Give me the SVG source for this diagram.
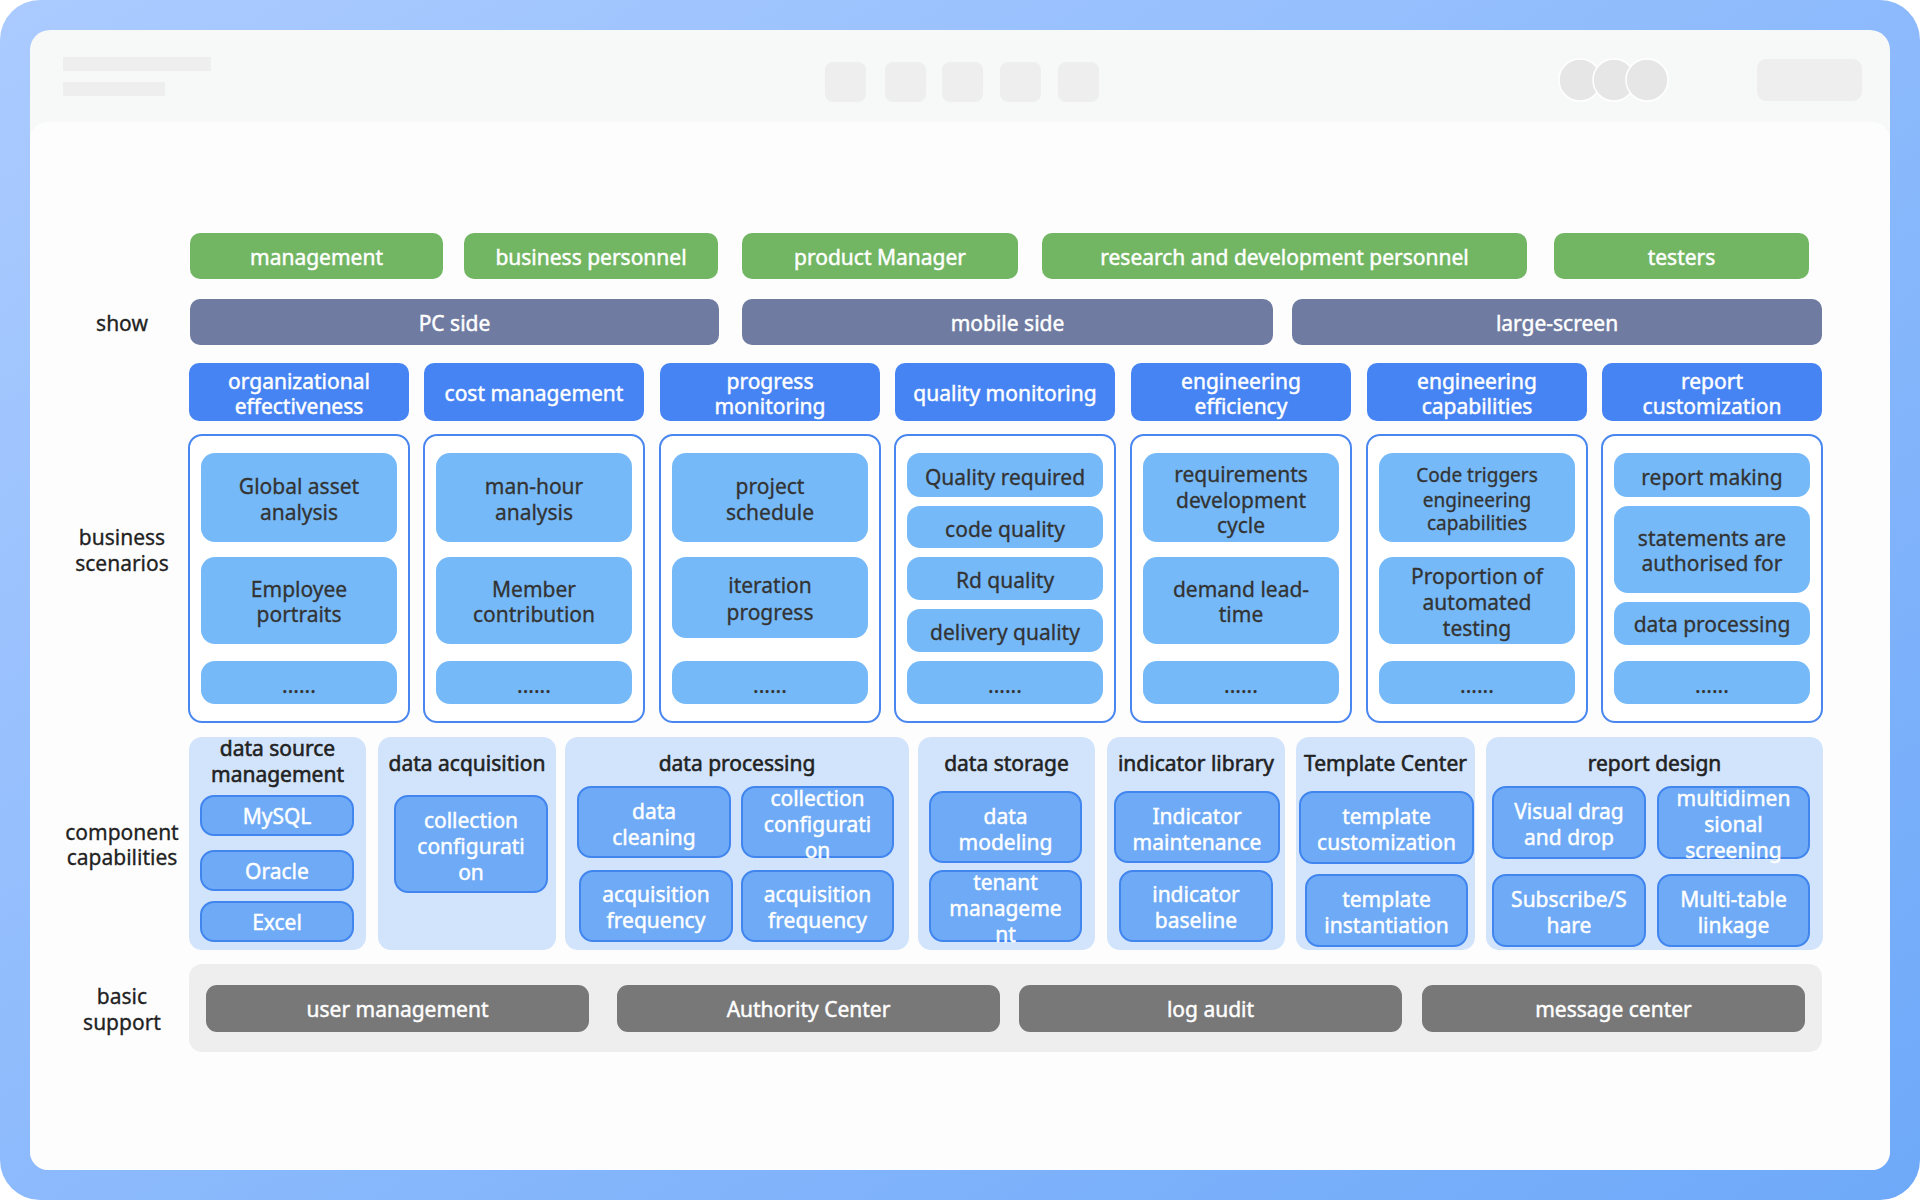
<svg xmlns="http://www.w3.org/2000/svg" width="1920" height="1200" viewBox="0 0 1920 1200">
<defs>
<linearGradient id="frame" x1="0" y1="0" x2="1" y2="1">
<stop offset="0" stop-color="#abcbff"/>
<stop offset="1" stop-color="#6ea9f9"/>
</linearGradient>
<style>
text{font-family:"Noto Sans","Open Sans","Liberation Sans",sans-serif;font-size:21px;text-anchor:middle;transform:translateY(2px)}
.w{fill:#fff;stroke:#fff;stroke-width:0.45}
.d{fill:#333;stroke:#333;stroke-width:0.3}
.k{fill:#222;stroke:#222;stroke-width:0.3}
.t{fill:#222;stroke:#222;stroke-width:0.55}
.g{fill:#72b663}
.s{fill:#6f7ba1}
.b{fill:#4784f3}
.c{fill:#fff;stroke:#4a86ef;stroke-width:2}
.sb{fill:#75b9f8}
.p{fill:#d1e4fc}
.cb{fill:#6eaaf6;stroke:#4185ef;stroke-width:2}
.bp{fill:#eeeeee}
.gb{fill:#787878}
.hb{fill:#eeeeee}
.sm{font-size:19px}
</style>
</defs>
<g id="frame-bg">
<rect x="0" y="0" width="1920" height="1200" rx="40" fill="url(#frame)"/>
<rect x="30" y="30" width="1860" height="1140" rx="20" fill="#f7f9f8"/>
<rect x="30" y="122" width="1860" height="1048" rx="18" fill="#fdfdfd"/>
</g>
<g id="header">
<rect class="hb" x="63" y="57" width="148" height="14"/>
<rect class="hb" x="63" y="82" width="102" height="14"/>
<rect class="hb" x="825" y="62" width="41" height="40" rx="8"/>
<rect class="hb" x="885" y="62" width="41" height="40" rx="8"/>
<rect class="hb" x="942" y="62" width="41" height="40" rx="8"/>
<rect class="hb" x="1000" y="62" width="41" height="40" rx="8"/>
<rect class="hb" x="1058" y="62" width="41" height="40" rx="8"/>
<circle cx="1580" cy="80" r="21" fill="#e6e6e6" stroke="#fff" stroke-width="1.5"/>
<circle cx="1614" cy="80" r="21" fill="#e6e6e6" stroke="#fff" stroke-width="1.5"/>
<circle cx="1647" cy="80" r="21" fill="#e6e6e6" stroke="#fff" stroke-width="1.5"/>
<rect class="hb" x="1757" y="59" width="105" height="42" rx="9"/>
</g>
<g id="labels">
<text class="k" x="122" y="329">show</text>
<text class="k" x="122" y="543">business</text>
<text class="k" x="122" y="569">scenarios</text>
<text class="k" x="122" y="838">component</text>
<text class="k" x="122" y="863">capabilities</text>
<text class="k" x="122" y="1002">basic</text>
<text class="k" x="122" y="1028">support</text>
</g>
<g id="users">
<g id="u-management"><rect class="g" x="190" y="233" width="253" height="46" rx="10"/><text class="w" x="316.5" y="263">management</text></g>
<g id="u-business"><rect class="g" x="464" y="233" width="254" height="46" rx="10"/><text class="w" x="591" y="263">business personnel</text></g>
<g id="u-product"><rect class="g" x="742" y="233" width="276" height="46" rx="10"/><text class="w" x="880" y="263">product Manager</text></g>
<g id="u-rd"><rect class="g" x="1042" y="233" width="485" height="46" rx="10"/><text class="w" x="1284.5" y="263">research and development personnel</text></g>
<g id="u-testers"><rect class="g" x="1554" y="233" width="255" height="46" rx="10"/><text class="w" x="1681.5" y="263">testers</text></g>
</g>
<g id="show">
<g id="s-pc"><rect class="s" x="190" y="299" width="529" height="46" rx="10"/><text class="w" x="454.5" y="329">PC side</text></g>
<g id="s-mobile"><rect class="s" x="742" y="299" width="531" height="46" rx="10"/><text class="w" x="1007.5" y="329">mobile side</text></g>
<g id="s-large"><rect class="s" x="1292" y="299" width="530" height="46" rx="10"/><text class="w" x="1557" y="329">large-screen</text></g>
</g>
<g id="scenario-headers">
<g id="h-org"><rect class="b" x="189" y="363" width="220" height="58" rx="10"/><text class="w" x="299" y="387">organizational</text><text class="w" x="299" y="412">effectiveness</text></g>
<g id="h-cost"><rect class="b" x="424" y="363" width="220" height="58" rx="10"/><text class="w" x="534" y="399">cost management</text></g>
<g id="h-progress"><rect class="b" x="660" y="363" width="220" height="58" rx="10"/><text class="w" x="770" y="387">progress</text><text class="w" x="770" y="412">monitoring</text></g>
<g id="h-quality"><rect class="b" x="895" y="363" width="220" height="58" rx="10"/><text class="w" x="1005" y="399">quality monitoring</text></g>
<g id="h-effic"><rect class="b" x="1131" y="363" width="220" height="58" rx="10"/><text class="w" x="1241" y="387">engineering</text><text class="w" x="1241" y="412">efficiency</text></g>
<g id="h-capab"><rect class="b" x="1367" y="363" width="220" height="58" rx="10"/><text class="w" x="1477" y="387">engineering</text><text class="w" x="1477" y="412">capabilities</text></g>
<g id="h-report"><rect class="b" x="1602" y="363" width="220" height="58" rx="10"/><text class="w" x="1712" y="387">report</text><text class="w" x="1712" y="412">customization</text></g>
</g>
<g id="scenarios">
<g id="c-org">
<rect class="c" x="189" y="435" width="220" height="287" rx="13"/>
<rect class="sb" x="201" y="453" width="196" height="89" rx="14"/><text class="d" x="299" y="492">Global asset</text><text class="d" x="299" y="518">analysis</text>
<rect class="sb" x="201" y="557" width="196" height="87" rx="14"/><text class="d" x="299" y="595">Employee</text><text class="d" x="299" y="620">portraits</text>
<rect class="sb" x="201" y="661" width="196" height="43" rx="14"/><text class="d" x="299" y="691">......</text>
</g>
<g id="c-cost">
<rect class="c" x="424" y="435" width="220" height="287" rx="13"/>
<rect class="sb" x="436" y="453" width="196" height="89" rx="14"/><text class="d" x="534" y="492">man-hour</text><text class="d" x="534" y="518">analysis</text>
<rect class="sb" x="436" y="557" width="196" height="87" rx="14"/><text class="d" x="534" y="595">Member</text><text class="d" x="534" y="620">contribution</text>
<rect class="sb" x="436" y="661" width="196" height="43" rx="14"/><text class="d" x="534" y="691">......</text>
</g>
<g id="c-progress">
<rect class="c" x="660" y="435" width="220" height="287" rx="13"/>
<rect class="sb" x="672" y="453" width="196" height="89" rx="14"/><text class="d" x="770" y="492">project</text><text class="d" x="770" y="518">schedule</text>
<rect class="sb" x="672" y="557" width="196" height="81" rx="14"/><text class="d" x="770" y="591">iteration</text><text class="d" x="770" y="618">progress</text>
<rect class="sb" x="672" y="661" width="196" height="43" rx="14"/><text class="d" x="770" y="691">......</text>
</g>
<g id="c-quality">
<rect class="c" x="895" y="435" width="220" height="287" rx="13"/>
<rect class="sb" x="907" y="453" width="196" height="44" rx="13"/><text class="d" x="1005" y="483">Quality required</text>
<rect class="sb" x="907" y="506" width="196" height="42" rx="13"/><text class="d" x="1005" y="535">code quality</text>
<rect class="sb" x="907" y="557" width="196" height="43" rx="13"/><text class="d" x="1005" y="586">Rd quality</text>
<rect class="sb" x="907" y="609" width="196" height="43" rx="13"/><text class="d" x="1005" y="638">delivery quality</text>
<rect class="sb" x="907" y="661" width="196" height="43" rx="14"/><text class="d" x="1005" y="691">......</text>
</g>
<g id="c-effic">
<rect class="c" x="1131" y="435" width="220" height="287" rx="13"/>
<rect class="sb" x="1143" y="453" width="196" height="89" rx="14"/><text class="d" x="1241" y="480">requirements</text><text class="d" x="1241" y="506">development</text><text class="d" x="1241" y="531">cycle</text>
<rect class="sb" x="1143" y="557" width="196" height="87" rx="14"/><text class="d" x="1241" y="595">demand lead-</text><text class="d" x="1241" y="620">time</text>
<rect class="sb" x="1143" y="661" width="196" height="43" rx="14"/><text class="d" x="1241" y="691">......</text>
</g>
<g id="c-capab">
<rect class="c" x="1367" y="435" width="220" height="287" rx="13"/>
<rect class="sb" x="1379" y="453" width="196" height="89" rx="14"/><text class="d sm" x="1477" y="480">Code triggers</text><text class="d sm" x="1477" y="505">engineering</text><text class="d sm" x="1477" y="528">capabilities</text>
<rect class="sb" x="1379" y="557" width="196" height="87" rx="14"/><text class="d" x="1477" y="582">Proportion of</text><text class="d" x="1477" y="608">automated</text><text class="d" x="1477" y="634">testing</text>
<rect class="sb" x="1379" y="661" width="196" height="43" rx="14"/><text class="d" x="1477" y="691">......</text>
</g>
<g id="c-report">
<rect class="c" x="1602" y="435" width="220" height="287" rx="13"/>
<rect class="sb" x="1614" y="453" width="196" height="44" rx="13"/><text class="d" x="1712" y="483">report making</text>
<rect class="sb" x="1614" y="506" width="196" height="87" rx="14"/><text class="d" x="1712" y="544">statements are</text><text class="d" x="1712" y="569">authorised for</text>
<rect class="sb" x="1614" y="602" width="196" height="43" rx="13"/><text class="d" x="1712" y="630">data processing</text>
<rect class="sb" x="1614" y="661" width="196" height="43" rx="14"/><text class="d" x="1712" y="691">......</text>
</g>
</g>
<g id="components">
<g id="p-dsm">
<rect class="p" x="189" y="737" width="177" height="213" rx="13"/>
<text class="t" x="277.5" y="754">data source</text><text class="t" x="277.5" y="780">management</text>
<rect class="cb" x="201" y="796" width="152" height="39" rx="13"/><text class="w" x="277" y="822">MySQL</text>
<rect class="cb" x="201" y="851" width="152" height="39" rx="13"/><text class="w" x="277" y="877">Oracle</text>
<rect class="cb" x="201" y="902" width="152" height="39" rx="13"/><text class="w" x="277" y="928">Excel</text>
</g>
<g id="p-da">
<rect class="p" x="378" y="737" width="178" height="213" rx="13"/>
<text class="t" x="467" y="769">data acquisition</text>
<rect class="cb" x="395" y="796" width="152" height="96" rx="13"/><text class="w" x="471" y="826">collection</text><text class="w" x="471" y="852">configurati</text><text class="w" x="471" y="878">on</text>
</g>
<g id="p-dp">
<rect class="p" x="565" y="737" width="344" height="213" rx="13"/>
<text class="t" x="737" y="769">data processing</text>
<rect class="cb" x="578" y="787" width="152" height="70" rx="13"/><text class="w" x="654" y="817">data</text><text class="w" x="654" y="843">cleaning</text>
<rect class="cb" x="742" y="787" width="151" height="70" rx="13"/><text class="w" x="817.5" y="804">collection</text><text class="w" x="817.5" y="830">configurati</text><text class="w" x="817.5" y="856">on</text>
<rect class="cb" x="580" y="871" width="152" height="70" rx="13"/><text class="w" x="656" y="900">acquisition</text><text class="w" x="656" y="926">frequency</text>
<rect class="cb" x="742" y="871" width="151" height="70" rx="13"/><text class="w" x="817.5" y="900">acquisition</text><text class="w" x="817.5" y="926">frequency</text>
</g>
<g id="p-ds">
<rect class="p" x="918" y="737" width="177" height="213" rx="13"/>
<text class="t" x="1006.5" y="769">data storage</text>
<rect class="cb" x="930" y="792" width="151" height="70" rx="13"/><text class="w" x="1005.5" y="822">data</text><text class="w" x="1005.5" y="848">modeling</text>
<rect class="cb" x="930" y="871" width="151" height="70" rx="13"/><text class="w" x="1005.5" y="888">tenant</text><text class="w" x="1005.5" y="914">manageme</text><text class="w" x="1005.5" y="940">nt</text>
</g>
<g id="p-il">
<rect class="p" x="1107" y="737" width="178" height="213" rx="13"/>
<text class="t" x="1196" y="769">indicator library</text>
<rect class="cb" x="1115" y="792" width="164" height="70" rx="13"/><text class="w" x="1197" y="822">Indicator</text><text class="w" x="1197" y="848">maintenance</text>
<rect class="cb" x="1120" y="871" width="152" height="70" rx="13"/><text class="w" x="1196" y="900">indicator</text><text class="w" x="1196" y="926">baseline</text>
</g>
<g id="p-tc">
<rect class="p" x="1296" y="737" width="179" height="213" rx="13"/>
<text class="t" x="1385.5" y="769">Template Center</text>
<rect class="cb" x="1300" y="792" width="173" height="71" rx="13"/><text class="w" x="1386.5" y="822">template</text><text class="w" x="1386.5" y="848">customization</text>
<rect class="cb" x="1306" y="875" width="161" height="71" rx="13"/><text class="w" x="1386.5" y="905">template</text><text class="w" x="1386.5" y="931">instantiation</text>
</g>
<g id="p-rd">
<rect class="p" x="1486" y="737" width="337" height="213" rx="13"/>
<text class="t" x="1654.5" y="769">report design</text>
<rect class="cb" x="1493" y="787" width="152" height="71" rx="13"/><text class="w" x="1569" y="817">Visual drag</text><text class="w" x="1569" y="843">and drop</text>
<rect class="cb" x="1658" y="787" width="151" height="71" rx="13"/><text class="w" x="1733.5" y="804">multidimen</text><text class="w" x="1733.5" y="830">sional</text><text class="w" x="1733.5" y="856">screening</text>
<rect class="cb" x="1493" y="875" width="152" height="71" rx="13"/><text class="w" x="1569" y="905">Subscribe/S</text><text class="w" x="1569" y="931">hare</text>
<rect class="cb" x="1658" y="875" width="151" height="71" rx="13"/><text class="w" x="1733.5" y="905">Multi-table</text><text class="w" x="1733.5" y="931">linkage</text>
</g>
</g>
<g id="basic-support">
<rect class="bp" x="189" y="964" width="1633" height="88" rx="13"/>
<g id="b-user"><rect class="gb" x="206" y="985" width="383" height="47" rx="11"/><text class="w" x="397.5" y="1015">user management</text></g>
<g id="b-auth"><rect class="gb" x="617" y="985" width="383" height="47" rx="11"/><text class="w" x="808.5" y="1015">Authority Center</text></g>
<g id="b-log"><rect class="gb" x="1019" y="985" width="383" height="47" rx="11"/><text class="w" x="1210.5" y="1015">log audit</text></g>
<g id="b-msg"><rect class="gb" x="1422" y="985" width="383" height="47" rx="11"/><text class="w" x="1613.5" y="1015">message center</text></g>
</g>
<g id="connectors"/>
</svg>
